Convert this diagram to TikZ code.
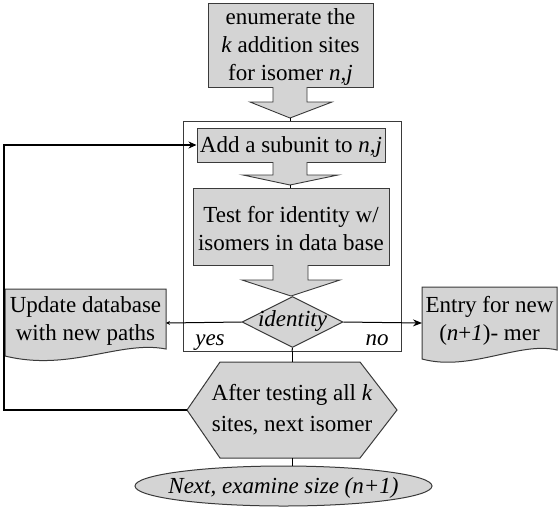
\documentclass[tikz,border=0pt]{standalone}
\usepackage{fontspec}
\setmainfont{LiberationSerif}[Extension=.ttf,UprightFont=*-Regular,ItalicFont=*-Italic,BoldFont=*-Bold,BoldItalicFont=*-BoldItalic]
\usetikzlibrary{shapes.geometric,arrows.meta,calc}
\definecolor{boxfill}{HTML}{D4D4D4}
\definecolor{edge}{HTML}{3A3A3A}
\begin{document}
\begin{tikzpicture}[x=1pt,y=-1pt,
  txt/.style={align=center,inner sep=0pt,font=\fontsize{23}{28}\selectfont},
  box/.style={draw=edge,fill=boxfill,line width=1pt,inner sep=0pt},
  blk/.style={fill=boxfill},
  blkline/.style={draw=edge,line width=0.9pt,line join=miter},
  conn/.style={draw=black,line width=1pt},
  loopline/.style={draw=black,line width=2pt}]
\useasboundingbox (0,0) rectangle (559,507);

% outer frame
\node[draw=edge,line width=1pt,minimum width=218pt,minimum height=230pt,inner sep=0pt] (frame) at (292,236) {};

% top box
\node[box,minimum width=165pt,minimum height=84pt] (top) at (290.5,45) {};
\node[txt] (toptxt) at (290.5,47) {enumerate the\\\textit{k} addition sites\\for isomer \textit{n,j}};

% block arrow 1
\fill[blk] (273,86) -- (273,102) -- (250,102) -- (290,118) -- (332,102) -- (307,102) -- (307,86) -- cycle;
\draw[blkline] (273,87) -- (273,102) -- (250,102) -- (290,118) -- (332,102) -- (307,102) -- (307,87);
\draw[conn] (290,118) -- (290,121);

% add box
\node[box,minimum width=188pt,minimum height=34pt] (add) at (291,145) {};
\node[txt] (addtxt) at (291,147) {Add a subunit to \textit{n,j}};

% block arrow 2
\fill[blk] (273,161) -- (273,175) -- (243,175) -- (290,185) -- (338,175) -- (307,175) -- (307,161) -- cycle;
\draw[blkline] (273,162) -- (273,175) -- (243,175) -- (290,185) -- (338,175) -- (307,175) -- (307,162);
\draw[conn] (290,185) -- (290,188);

% test box
\node[box,minimum width=196pt,minimum height=77pt] (test) at (291,226.5) {};
\node[txt] (testtxt) at (291,228.5) {Test for identity w/\\isomers in data base};

% block arrow 3
\fill[blk] (273,264) -- (273,280) -- (242,280) -- (291,296) -- (340,280) -- (308,280) -- (308,264) -- cycle;
\draw[blkline] (273,265) -- (273,280) -- (242,280) -- (291,296) -- (340,280) -- (308,280) -- (308,265);

% diamond
\node[draw=edge,fill=boxfill,line width=1pt,diamond,minimum width=101pt,minimum height=51pt,inner sep=0pt] (id) at (292.5,322) {};
\node[txt] (idtxt) at (292.5,321) {\textit{identity}};

\node[txt,anchor=base] (yes) at (210,345) {\textit{yes}};
\node[txt,anchor=base] (no) at (377,345) {\textit{no}};

% update document
\coordinate (updE) at (166,323);
\draw[box] (5,289) -- (166,289) -- (166,349) .. controls (120,340) and (70,372) .. (5,356) -- cycle;
\node[txt] (upd) at (85.5,321) {Update database\\with new paths};

% entry document
\coordinate (entW) at (422,323);
\draw[box] (422,287) -- (557,287) -- (557,350) .. controls (520,341) and (470,372) .. (422,359) -- cycle;
\node[txt] (ent) at (489.5,321) {Entry for new\\(\textit{n}+\textit{1})- mer};

% connectors from diamond
\draw[conn,-{Stealth[length=4pt,width=4pt]}] (id.west) -- (updE);
\draw[conn,-{Stealth[length=9pt,width=7pt]}] (id.east) -- (entW);

% hexagon
\coordinate (hexW) at (187,410);
\draw[box] (hexW) -- (220,362) -- (360,362) -- (397,410) -- (360,458) -- (220,458) -- cycle;
\node[txt,font=\fontsize{23}{31}\selectfont] (hex) at (292,410) {After testing all \textit{k}\\sites, next isomer};

\draw[conn] (id.south) -- (292,351);
\draw[conn] (292,351) -- (hex.north |- 292,362);

% ellipse
\node[draw=edge,fill=boxfill,line width=1pt,ellipse,minimum width=297pt,minimum height=40pt,inner sep=0pt] (next) at (283.5,486) {};
\node[txt] (nexttxt) at (283.5,488) {\textit{Next, examine size (n+1)}};
\draw[conn] (292,458) -- (292,466);

% feedback loop
\draw[loopline,-{Stealth[length=8pt,width=7pt]}] (hexW) -- (4,410) |- (add.west);
\end{tikzpicture}
\end{document}
